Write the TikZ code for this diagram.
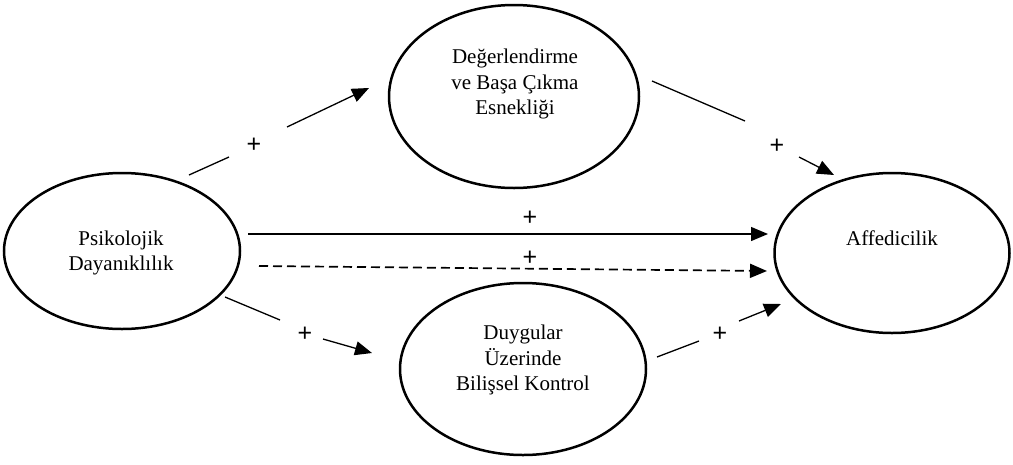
\documentclass[tikz,border=0pt]{standalone}
\usepackage{fontspec}
\setmainfont{Liberation Serif}
\newfontfamily\plusfont{Liberation Sans}
\usetikzlibrary{arrows.meta,shapes.geometric}
\begin{document}
\begin{tikzpicture}[x=1pt,y=-1pt,
  ell/.style={draw, line width=2.5pt, ellipse, inner sep=0pt},
  lbl/.style={align=center, font=\fontsize{21}{25.5}\selectfont},
  pl/.style={font=\plusfont\fontsize{25}{25}\selectfont, inner sep=0pt},
  conn/.style={line width=1.3pt},
  arr/.style={line width=1.3pt, -{Triangle[length=17pt,width=14pt]}},
  darr/.style={line width=1.7pt, dash pattern=on 9pt off 5pt, -{Triangle[length=17pt,width=14pt]}}]
\useasboundingbox (0,0) rectangle (1013,464);
% ellipses
\node[ell, minimum width=236pt, minimum height=156pt] (L) at (122,251) {};
\node[ell, minimum width=250pt, minimum height=183pt] (T) at (514,96.5) {};
\node[ell, minimum width=246pt, minimum height=172pt] (B) at (523,369) {};
\node[ell, minimum width=235pt, minimum height=160pt] (R) at (892,253) {};
% texts
\node[lbl] (Lt) at (121,253) {Psikolojik\\Dayanıklılık};
\node[lbl] (Tt) at (515,84) {Değerlendirme\\ve Başa Çıkma\\Esnekliği};
\node[lbl] (Bt) at (523,360) {Duygular\\Üzerinde\\Bilişsel Kontrol};
\node[lbl] (Rt) at (892,238) {Affedicilik};
% connector end points
\coordinate (a1) at (189,175); \coordinate (a2) at (229,157);
\coordinate (a3) at (287,127); \coordinate (a4) at (369,88);
\coordinate (b1) at (652,81);  \coordinate (b2) at (745,121);
\coordinate (b3) at (799,157); \coordinate (b4) at (834,175);
\coordinate (c1) at (248,234); \coordinate (c2) at (768,234);
\coordinate (d1) at (259,266); \coordinate (d2) at (767,271);
\coordinate (e1) at (225,297); \coordinate (e2) at (280,320);
\coordinate (e3) at (323,339); \coordinate (e4) at (372,353);
\coordinate (f1) at (657,357); \coordinate (f2) at (699,341);
\coordinate (f3) at (739,321); \coordinate (f4) at (781,304);
% plus labels
\node[pl] (pa) at (254,145) {+};
\node[pl] (pb) at (777,146) {+};
\node[pl] (pc) at (530,218) {+};
\node[pl] (pd) at (530,258) {+};
\node[pl] (pe) at (305,334) {+};
\node[pl] (pf) at (720,334) {+};
% connectors
\draw[conn] (a1) -- (a2);
\draw[arr] (a3) -- (a4);
\draw[conn] (b1) -- (b2);
\draw[arr] (b3) -- (b4);
\draw[arr] (c1) -- (c2);
\draw[darr] (d1) -- (d2);
\draw[conn] (e1) -- (e2);
\draw[arr] (e3) -- (e4);
\draw[conn] (f1) -- (f2);
\draw[arr] (f3) -- (f4);
\end{tikzpicture}
\end{document}
